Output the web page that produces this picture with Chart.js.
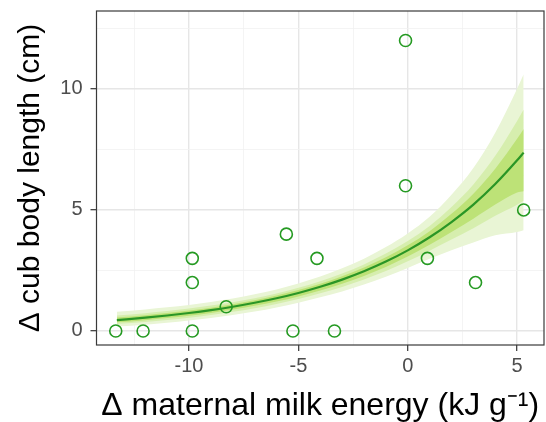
<!DOCTYPE html>
<html>
<head>
<meta charset="utf-8">
<script src="https://cdn.jsdelivr.net/npm/chart.js@4/dist/chart.umd.min.js"></script>
<style>
  body { margin: 0; background: #fff; }
</style>
</head>
<body>
<canvas id="chart" width="546" height="422"></canvas>
<script>
// observed points
const pointX = [-13.35, -12.1, -9.85, -9.85, -9.85, -8.3, -5.55, -5.25, -4.15, -3.35, -0.1, -0.1, 0.9, 3.1, 5.3];
const pointY = [0, 0, 0, 2, 3, 1, 4, 0, 3, 0, 12, 6, 3, 2, 5];

// fitted curve and ribbons
const curveX   = [-13.3, -12, -11, -10, -9, -8, -7, -6, -5, -4, -3, -2, -1, 0, 1, 2, 3, 4, 5, 5.3];
const curveMid = [0.45, 0.549, 0.638, 0.742, 0.862, 1.001, 1.164, 1.352, 1.571, 1.826, 2.122, 2.466, 2.866, 3.33, 3.87, 4.50, 5.22, 6.07, 7.05, 7.37];
const innerLo  = [0.356, 0.447, 0.533, 0.633, 0.747, 0.882, 1.038, 1.219, 1.428, 1.673, 1.951, 2.276, 2.645, 3.074, 3.558, 4.09, 4.64, 5.22, 5.72, 5.77];
const innerHi  = [0.552, 0.651, 0.739, 0.842, 0.963, 1.103, 1.269, 1.462, 1.689, 1.952, 2.262, 2.621, 3.047, 3.54, 4.125, 4.839, 5.673, 6.706, 7.938, 8.342];
const midLo    = [0.283, 0.369, 0.452, 0.549, 0.659, 0.790, 0.940, 1.117, 1.318, 1.554, 1.819, 2.129, 2.475, 2.877, 3.318, 3.775, 4.247, 4.756, 5.215, 5.38];
const midHi    = [0.637, 0.736, 0.824, 0.926, 1.047, 1.188, 1.356, 1.553, 1.787, 2.057, 2.379, 2.751, 3.197, 3.715, 4.338, 5.122, 6.051, 7.236, 8.678, 9.152];
const outerLo  = [0.18, 0.258, 0.338, 0.43, 0.534, 0.661, 0.803, 0.973, 1.163, 1.388, 1.634, 1.923, 2.235, 2.60, 2.98, 3.33, 3.65, 3.95, 4.09, 4.16];
const outerHi  = [0.79, 0.889, 0.976, 1.076, 1.198, 1.341, 1.513, 1.717, 1.964, 2.246, 2.589, 2.984, 3.468, 4.03, 4.72, 5.63, 6.73, 8.19, 10.01, 10.61];

// axis ticks (major labelled, minor only grid)
const xTicks = [-12.5, -10, -7.5, -5, -2.5, 0, 2.5, 5];
const yTicks = [0, 2.5, 5, 7.5, 10, 12.5];
const xLabels = { '-10': '-10', '-5': '-5', '0': '0', '5': '5' };
const yLabels = { '0': '0', '5': '5', '10': '10' };

function xy(xs, ys) {
  return xs.map((x, i) => ({ x: x, y: ys[i] }));
}

function band(data, color, order, fill) {
  return {
    data: data,
    borderWidth: 0,
    pointRadius: 0,
    backgroundColor: color,
    fill: fill,
    order: order,
    cubicInterpolationMode: 'monotone'
  };
}

const font = 'Liberation Sans, Arial, Helvetica, sans-serif';

const panelBorder = {
  id: 'panelBorder',
  afterDatasetsDraw(chart) {
    const { ctx, chartArea: a } = chart;
    ctx.save();
    ctx.strokeStyle = '#3a3a3a';
    ctx.lineWidth = 1.2;
    ctx.strokeRect(a.left, a.top, a.right - a.left, a.bottom - a.top);
    ctx.restore();
  }
};

function gridOpts() {
  return {
    color: c => (c.tick && c.tick.value % 5 === 0) ? '#e6e6e6' : '#f1f1f1',
    lineWidth: c => (c.tick && c.tick.value % 5 === 0) ? 1.4 : 0.8,
    tickColor: c => (c.tick && c.tick.value % 5 === 0) ? '#333333' : 'rgba(0,0,0,0)',
    tickWidth: 1.2,
    tickLength: 6,
    drawTicks: true
  };
}

new Chart(document.getElementById('chart'), {
  type: 'line',
  data: {
    datasets: [
      {
        data: xy(pointX, pointY),
        showLine: false,
        pointRadius: 6,
        pointHoverRadius: 6,
        pointBorderWidth: 1.6,
        pointBorderColor: '#259a22',
        pointBackgroundColor: 'rgba(0,0,0,0)',
        order: 0
      },
      {
        data: xy(curveX, curveMid),
        borderColor: '#2a9626',
        borderWidth: 2.2,
        pointRadius: 0,
        fill: false,
        cubicInterpolationMode: 'monotone',
        order: 1
      },
      band(xy(curveX, innerLo), '#bde277', 2, '+1'),
      band(xy(curveX, innerHi), 'rgba(0,0,0,0)', 2, false),
      band(xy(curveX, midLo), '#d6eeae', 3, '+1'),
      band(xy(curveX, midHi), 'rgba(0,0,0,0)', 3, false),
      band(xy(curveX, outerLo), '#e9f5d5', 4, '+1'),
      band(xy(curveX, outerHi), 'rgba(0,0,0,0)', 4, false)
    ]
  },
  options: {
    responsive: false,
    animation: false,
    layout: { autoPadding: false, padding: { top: 11, right: 2, left: 0, bottom: 0 } },
    plugins: {
      legend: { display: false },
      tooltip: { enabled: false }
    },
    scales: {
      x: {
        type: 'linear',
        min: -14.23,
        max: 6.23,
        afterBuildTicks: s => { s.ticks = xTicks.map(v => ({ value: v })); },
        afterFit: s => { s.height = 77; s.paddingLeft = 0; s.paddingRight = 0; },
        border: { display: false },
        grid: gridOpts(),
        ticks: {
          padding: 3,
          color: '#4d4d4d',
          font: { family: font, size: 20 },
          maxRotation: 0,
          autoSkip: false,
          callback: v => xLabels[String(v)] || ''
        },
        title: {
          display: true,
          text: 'Δ maternal milk energy (kJ g⁻¹)',
          color: '#000',
          font: { family: font, size: 32, lineHeight: 1 },
          padding: { top: 0, bottom: 0 }
        }
      },
      y: {
        min: -0.58,
        max: 13.22,
        afterBuildTicks: s => { s.ticks = yTicks.map(v => ({ value: v })); },
        afterFit: s => { s.width = 96.5; s.paddingTop = 0; s.paddingBottom = 0; },
        border: { display: false },
        grid: gridOpts(),
        ticks: {
          padding: 8,
          color: '#4d4d4d',
          font: { family: font, size: 20 },
          autoSkip: false,
          callback: v => yLabels[String(v)] || ''
        },
        title: {
          display: true,
          text: 'Δ cub body length (cm)',
          color: '#000',
          font: { family: font, size: 30, lineHeight: 1 },
          padding: { top: 16, bottom: 0 }
        }
      }
    }
  },
  plugins: [panelBorder]
});
</script>
</body>
</html>
